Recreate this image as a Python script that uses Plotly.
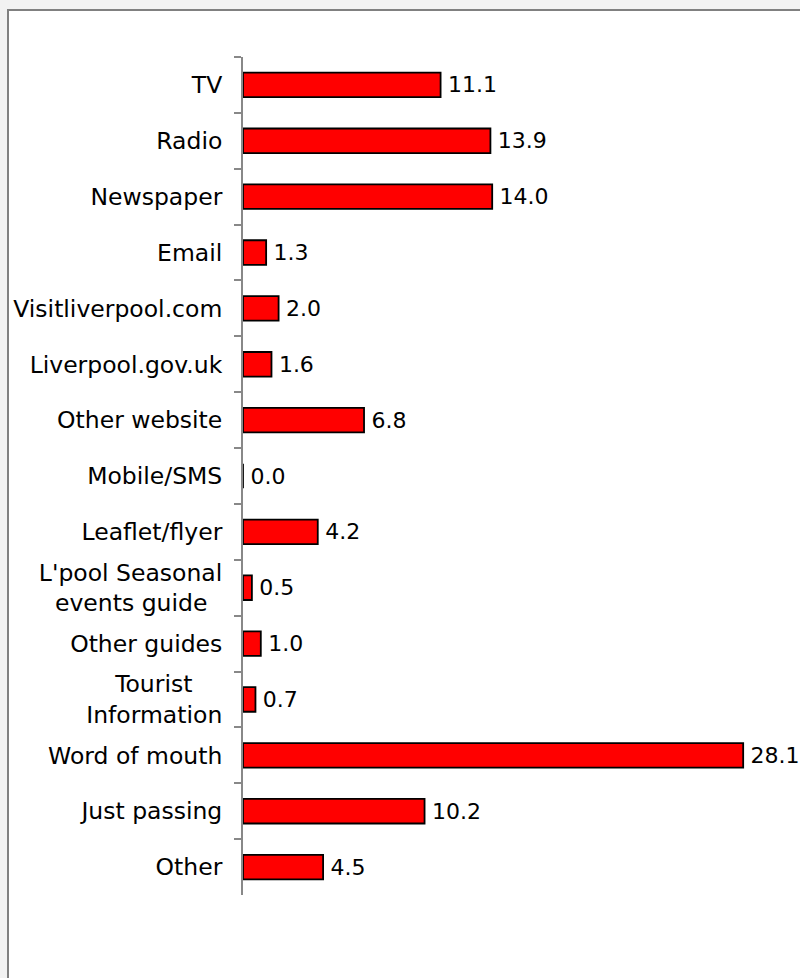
import plotly.graph_objects as go

# Where visitors heard about the event (% of respondents)
sources = [
    "TV", "Radio", "Newspaper", "Email", "Visitliverpool.com",
    "Liverpool.gov.uk", "Other website", "Mobile/SMS", "Leaflet/flyer",
    "L'pool Seasonal<br>events guide\u00a0\u00a0", "Other guides",
    "Tourist\u00a0\u00a0\u00a0\u00a0<br>Information", "Word of mouth",
    "Just passing", "Other",
]
percentages = [11.1, 13.9, 14.0, 1.3, 2.0, 1.6, 6.8, 0.0, 4.2, 0.5, 1.0, 0.7, 28.1, 10.2, 4.5]

FONT = "DejaVu Sans"
W_PX, H_PX = 800, 978
L, R, T, B = 243, 0, 57, 83
plot_w = W_PX - L - R
plot_h = H_PX - T - B
x_max = plot_w / 17.8

fig = go.Figure(
    go.Bar(
        x=percentages,
        y=sources,
        orientation="h",
        marker=dict(color="#ff0000", line=dict(color="#000000", width=1.8)),
        texttemplate="\u2009%{x:.1f}",
        textposition="outside",
        constraintext="none",
        cliponaxis=False,
        textfont=dict(family=FONT, size=22, color="#000000"),
        hoverinfo="skip",
    )
)

# white panel with grey frame behind the chart
fig.add_shape(
    type="rect", xref="paper", yref="paper",
    x0=(8 - L) / plot_w, x1=(820 - L) / plot_w,
    y0=1 - (1000 - T) / plot_h, y1=1 + (T - 10) / plot_h,
    fillcolor="#ffffff", line=dict(color="#808080", width=2), layer="below",
)

fig.update_layout(
    width=W_PX, height=H_PX,
    margin=dict(l=L, r=R, t=T, b=B, pad=0),
    paper_bgcolor="#f2f2f2",
    plot_bgcolor="rgba(0,0,0,0)",
    bargap=0.56,
    showlegend=False,
    xaxis=dict(visible=False, range=[0, x_max], fixedrange=True),
    yaxis=dict(
        autorange="reversed",
        showline=True, linecolor="#888888", linewidth=2,
        ticks="outside", tickson="boundaries", ticklen=7, tickwidth=2, tickcolor="#888888",
        ticklabelstandoff=14,
        showgrid=False, zeroline=False,
        tickfont=dict(family=FONT, size=23.5, color="#000000"),
    ),
)

fig.write_html("out.html")
